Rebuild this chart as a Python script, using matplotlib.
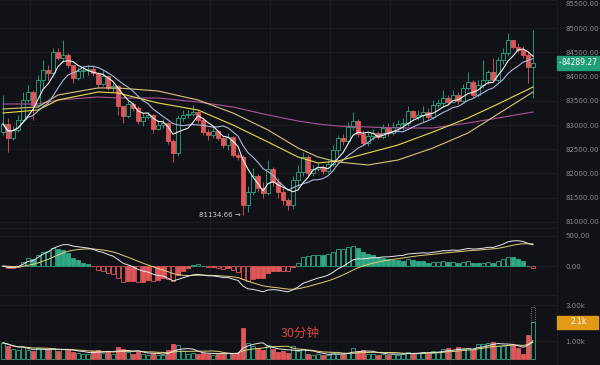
import numpy as np
import pandas as pd
import matplotlib
matplotlib.use("Agg")
import matplotlib.pyplot as plt
from matplotlib.patches import Rectangle

# --- Colours ---
BG = '#111217'
GRID = '#1d1f25'
UP = '#2fa985'
DOWN = '#e0575a'
TXT = '#8a8d93'

# --- Data (30 min candles) ---
FIRST_OPEN = 82856
CLOSES = [
    83021, 82732, 82897, 83103, 83517, 83682, 83413, 83930, 84136, 84074,
    84508, 84384, 84446, 84240, 83971, 84116, 84136, 84157, 84074, 83847,
    84012, 83765, 83806, 83393, 83186, 83434, 83351, 83083, 83165, 83207,
    82917, 83000, 83041, 82670, 82422, 83145, 83207, 83227, 83269, 83103,
    82856, 82794, 82876, 82732, 82587, 82752, 82380, 82339, 81347, 81616,
    81946, 81699, 81595, 82091, 81823, 81616, 81450, 81347, 81864, 82029,
    82339, 82008, 82091, 82132, 82050, 82194, 82484, 82732, 82670, 82959,
    83083, 82814, 82628, 82773, 82835, 82752, 82938, 82835, 82959, 83021,
    83041, 83289, 83165, 83207, 83269, 83165, 83413, 83455, 83558, 83475,
    83620, 83496, 83765, 83888, 83620, 83826, 83930, 84095, 83930, 84343,
    84488, 84756, 84612, 84550, 84446, 84198, 84289.27,
]
HIGHS = [
    83620, 83145, 82979, 83207, 83682, 83826, 83723, 84033, 84343, 84240,
    84591, 84591, 84756, 84488, 84240, 84198, 84219, 84240, 84240, 84095,
    84136, 84033, 83868, 83826, 83413, 83517, 83475, 83393, 83248, 83269,
    83227, 83103, 83124, 83062, 82711, 83207, 83310, 83310, 83413, 83310,
    83145, 82917, 82959, 82897, 82773, 82835, 82773, 82442, 82380, 81740,
    82112, 81988, 81823, 82277, 82132, 81905, 81699, 81492, 81946, 82174,
    82442, 82380, 82174, 82215, 82174, 82277, 82587, 82794, 82814, 83062,
    83269, 83124, 82897, 82856, 82917, 82876, 83021, 83041, 83062, 83103,
    83145, 83393, 83310, 83310, 83393, 83351, 83517, 83537, 83723, 83620,
    83723, 83682, 83847, 84095, 83930, 83930, 84343, 84136, 84384, 84405,
    84591, 84901, 84756, 84694, 84632, 84508, 84963,
]
LOWS = [
    82794, 82442, 82690, 82856, 83103, 83475, 83103, 83372, 83765, 83930,
    84033, 84343, 84302, 84178, 83868, 83930, 83971, 84033, 84012, 83765,
    83806, 83723, 83682, 83207, 83041, 83145, 83289, 83021, 82979, 83124,
    82835, 82897, 82938, 82608, 82236, 82360, 83083, 83145, 83186, 83041,
    82794, 82690, 82732, 82690, 82525, 82484, 82339, 82277, 81134.66, 81203,
    81554, 81616, 81492, 81554, 81740, 81492, 81347, 81244, 81265, 81740,
    81946, 81946, 81946, 82050, 81988, 82008, 82153, 82380, 82587, 82628,
    82897, 82752, 82566, 82566, 82690, 82711, 82711, 82773, 82794, 82876,
    82897, 82979, 83124, 83103, 83062, 83124, 83124, 83351, 83372, 83434,
    83455, 83434, 83475, 83723, 83558, 83579, 83765, 83847, 83888, 83888,
    84260, 84426, 84570, 84508, 84384, 83868, 83558,
]
VOLUME_K = [
    0.90, 0.75, 0.55, 0.50, 0.65, 0.50, 0.45, 0.60, 0.55, 0.50,
    0.60, 0.45, 0.55, 0.50, 0.40, 0.35, 0.30, 0.30, 0.45, 0.50,
    0.35, 0.45, 0.30, 0.65, 0.55, 0.40, 0.30, 0.40, 0.30, 0.25,
    0.35, 0.25, 0.20, 0.50, 0.85, 0.80, 0.45, 0.30, 0.35, 0.30,
    0.35, 0.30, 0.25, 0.30, 0.30, 0.35, 0.30, 0.35, 1.75, 0.90,
    0.75, 0.60, 0.50, 0.80, 0.55, 0.40, 0.45, 0.35, 0.70, 0.45,
    0.55, 0.30, 0.25, 0.30, 0.20, 0.25, 0.35, 0.30, 0.30, 0.35,
    0.60, 0.45, 0.50, 0.30, 0.30, 0.25, 0.30, 0.25, 0.30, 0.25,
    0.30, 0.40, 0.30, 0.35, 0.40, 0.30, 0.45, 0.40, 0.55, 0.60,
    0.45, 0.65, 0.55, 0.60, 0.50, 0.85, 0.85, 0.90, 0.95, 0.75,
    0.75, 0.80, 0.80, 0.60, 0.30, 1.35, 2.05,
]
VOLUME_PROJ_K = 2.9

# slow moving averages, read at a few candles
SLOW_IDX = [0, 7, 11, 19, 23, 31, 39, 46, 53, 59, 63, 67, 73, 79, 86, 93, 99, 106]
MA_YELLOW = [83248, 83310, 83517, 83682, 83661, 83455, 83310, 83000, 82649, 82339,
             82215, 82256, 82422, 82587, 82856, 83145, 83434, 83785]
MA_KHAKI = [83331, 83372, 83620, 83765, 83765, 83703, 83517, 83248, 82897, 82525,
            82339, 82236, 82174, 82277, 82525, 82835, 83227, 83682]
MA_PINK = [83434, 83434, 83517, 83579, 83558, 83558, 83475, 83372, 83207, 83083,
           83021, 82979, 82959, 82938, 82938, 83041, 83145, 83269]

PRICE_TICKS = [81000, 81500, 82000, 82500, 83000, 83500, 84000, 84500, 85000, 85500]
MACD_TICKS = [0, 500]
VOL_TICKS = [1.0, 3.0]
LAST_PRICE = 84289.27
LOW_PRICE = 81134.66
LOW_IDX = 48
VOL_TAG = '2.1k'
PERIOD_LABEL = '30分钟'


def main():
    n = len(CLOSES)
    idx = np.arange(n)
    closes = np.array(CLOSES, dtype=float)
    opens = np.array([FIRST_OPEN] + CLOSES[:-1], dtype=float)
    highs = np.array(HIGHS, dtype=float)
    lows = np.array(LOWS, dtype=float)
    vol = np.array(VOLUME_K)
    up = closes >= opens

    cs = pd.Series(closes)
    ma5 = cs.rolling(5, min_periods=1).mean()
    ma10 = cs.rolling(10, min_periods=1).mean()
    dif = cs.ewm(span=12, adjust=False).mean() - cs.ewm(span=26, adjust=False).mean()
    dea = dif.ewm(span=9, adjust=False).mean()
    hist = 2 * (dif - dea)
    vs = pd.Series(vol)
    vma5 = vs.rolling(5, min_periods=1).mean()
    vma10 = vs.rolling(10, min_periods=1).mean()

    W, H = 600, 365
    fig = plt.figure(figsize=(6, 3.65), dpi=100, facecolor=BG)

    def px_axes(top, bottom):
        a = fig.add_axes([0, 1 - bottom / H, 557 / W, (bottom - top) / H])
        a.set_facecolor(BG)
        for s in ['left', 'bottom']:
            a.spines[s].set_visible(False)
        a.spines['right'].set_color('#191b20')
        a.spines['top'].set_color('#191b20')
        a.yaxis.tick_right()
        a.tick_params(axis='y', length=0, pad=6, labelsize=5, labelcolor=TXT)
        a.tick_params(axis='x', length=0, labelbottom=False)
        a.set_xlim(-0.6, 110.8)
        a.set_xticks(np.arange(5.4, n, 12))
        a.grid(True, color=GRID, linewidth=0.6)
        a.set_axisbelow(True)
        return a

    ax_p = px_axes(0, 228)
    ax_m = px_axes(228, 295)
    ax_v = px_axes(295, 365)

    # --- price panel ---
    ax_p.set_ylim(85582.6 - 228 * 20.66, 85582.6)
    ax_p.set_yticks(PRICE_TICKS)
    ax_p.set_yticklabels([f'{t:.2f}' for t in PRICE_TICKS])

    colors = np.where(up, UP, DOWN)
    ax_p.vlines(idx, lows, highs, colors=colors, linewidth=0.6, zorder=2)
    body_lo = np.minimum(opens, closes)
    body_h = np.maximum(np.abs(closes - opens), 8)
    ax_p.bar(idx, body_h, bottom=body_lo, width=0.66,
             color=np.where(up, BG, DOWN), edgecolor=colors, linewidth=0.6, zorder=3)

    ax_p.plot(SLOW_IDX, MA_PINK, color='#a9559a', linewidth=0.8, zorder=4)
    ax_p.plot(SLOW_IDX, MA_KHAKI, color='#d8c57c', linewidth=0.8, zorder=4)
    ax_p.plot(SLOW_IDX, MA_YELLOW, color='#e8dc4c', linewidth=0.8, zorder=4)
    ax_p.plot(idx, ma10, color='#aab8d8', linewidth=0.8, zorder=5)
    ax_p.plot(idx, ma5, color='#f2f2f2', linewidth=0.8, zorder=5)

    ax_p.text(LOW_IDX - 0.4, LOW_PRICE, f'{LOW_PRICE:.2f} →', ha='right', va='center',
              fontsize=5, color='#cfcfcf', zorder=6)

    # last price tag
    y_last = 1 - (85582.6 - LAST_PRICE) / 20.66 / H
    fig.patches.append(Rectangle((557 / W, y_last - 7 / H), 43 / W, 14 / H,
                                 transform=fig.transFigure, color='#1f9e78', zorder=10))
    fig.text(580 / W, y_last, f'{LAST_PRICE:.2f}', ha='center', va='center',
             fontsize=5.5, color='white', zorder=11)
    fig.text(559 / W, y_last, '-', ha='left', va='center', fontsize=5.5, color='white', zorder=11)

    # --- MACD panel ---
    ax_m.set_ylim(-483, 633)
    ax_m.set_yticks(MACD_TICKS)
    ax_m.set_yticklabels([f'{t:.2f}' for t in MACD_TICKS])
    h = hist.values
    grow = np.abs(h) >= np.abs(np.r_[0, h[:-1]])
    hcol = np.where(h >= 0, UP, DOWN)
    hface = np.where(grow, BG, hcol)
    ax_m.bar(idx, h, width=0.62, color=hface, edgecolor=hcol, linewidth=0.6, zorder=3)
    ax_m.plot(idx, dea, color='#e0d27a', linewidth=0.7, zorder=4)
    ax_m.plot(idx, dif, color='#e8e8e8', linewidth=0.7, zorder=4)

    # --- volume panel ---
    ax_v.set_ylim(-0.333, 3.556)
    ax_v.set_yticks(VOL_TICKS)
    ax_v.set_yticklabels([f'{t:.2f}k' for t in VOL_TICKS])
    ax_v.bar(idx, vol, width=0.66, color=np.where(up, BG, DOWN), edgecolor=colors,
             linewidth=0.6, zorder=3)
    ax_v.bar(idx[-1], VOLUME_PROJ_K - vol[-1], bottom=vol[-1], width=0.66, color='none',
             edgecolor='#8fa89e', linewidth=0.6, linestyle=':', zorder=3)
    ax_v.plot(idx, vma10, color='#e0d27a', linewidth=0.7, zorder=4)
    ax_v.plot(idx, vma5, color='#e8e8e8', linewidth=0.7, zorder=4)
    fig.text(281 / W, 1 - 333 / H, PERIOD_LABEL, ha='left', va='center', fontsize=9,
             color='#d8433d', family=['Noto Sans CJK SC', 'DejaVu Sans'])

    y_tag = 1 - 322 / H
    fig.patches.append(Rectangle((557 / W, y_tag - 6.5 / H), 41 / W, 13 / H,
                                 transform=fig.transFigure, color='#e19a18', zorder=10))
    fig.text(579 / W, y_tag, VOL_TAG, ha='center', va='center', fontsize=5.5,
             color='white', zorder=11)

    fig.savefig('out.png', dpi=100, facecolor=BG)


if __name__ == '__main__':
    main()
